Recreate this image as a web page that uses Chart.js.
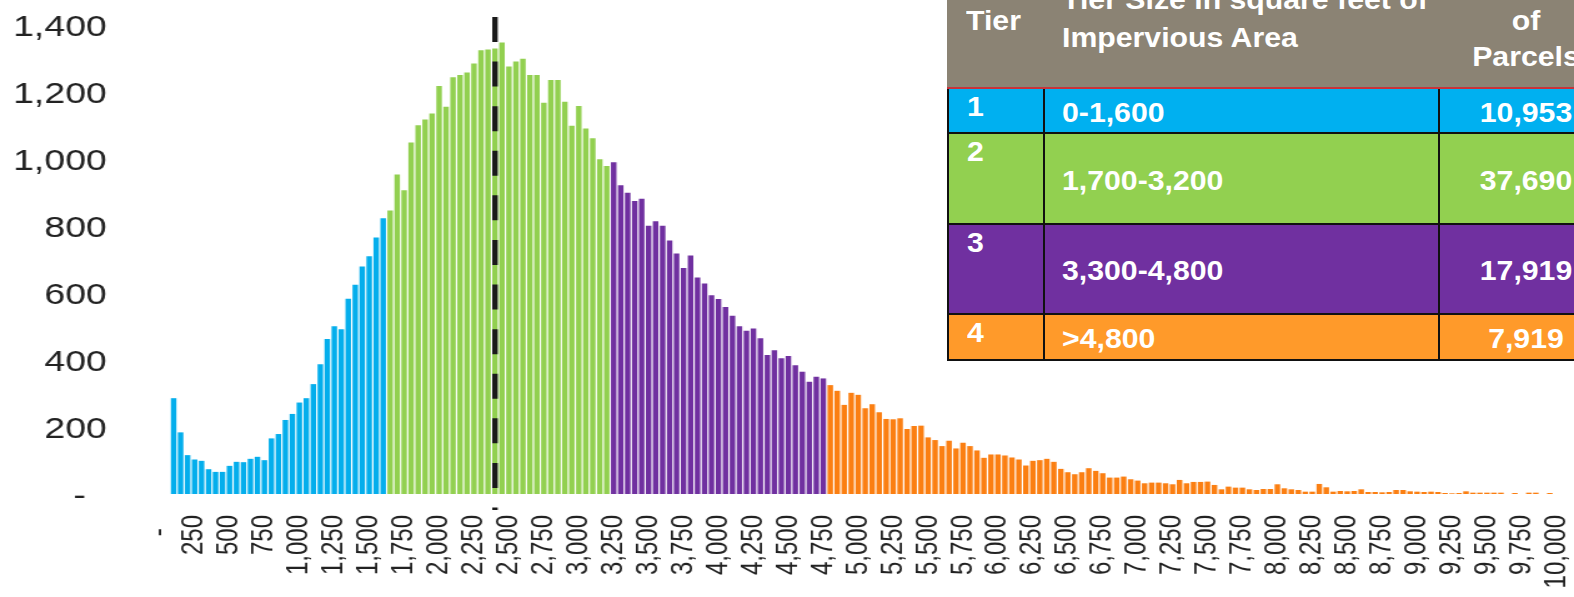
<!DOCTYPE html>
<html>
<head>
<meta charset="utf-8">
<script src="https://cdn.jsdelivr.net/npm/chart.js@4.4.1/dist/chart.umd.min.js"></script>
<style>
  html, body { margin: 0; padding: 0; background: #fff; }
  body { width: 1574px; height: 597px; overflow: hidden; position: relative; font-family: "Liberation Sans", Arial, sans-serif; }
  #stretch { position: absolute; left: 0; top: 0; width: 1260px; height: 597px; transform: scaleX(1.24921); transform-origin: 0 0; }
  #tierTable { position: absolute; left: 0; top: 0; width: 1574px; height: 597px; pointer-events: none; }
  .cell { position: absolute; }
  .txt { position: absolute; color: #fff; font: bold 28px "Liberation Sans", Arial, sans-serif; line-height: 28px; white-space: pre; transform: scaleX(1.08); }
</style>
</head>
<body>
<div id="stretch"><canvas id="histogram" width="1260" height="597"></canvas></div>
<div id="tierTable"></div>
<script>
// parcel counts per 50 sq ft bin of impervious area, bins 0 .. 10,000
var binSize = 50;
var tier1Counts = [0, 0, 286, 184, 116, 103, 99, 74, 66, 66, 84, 96, 95, 105, 111, 101, 166, 179, 221, 239, 273,
    286, 328, 387, 463, 501, 492, 583, 625, 679, 710, 766, 823];
var tier2Counts = [846, 954, 907, 1049, 1101, 1118, 1136, 1218, 1156, 1244, 1251, 1258, 1285, 1325, 1327, 1330,
    1348, 1276, 1291, 1299, 1251, 1251, 1168, 1236, 1236, 1171, 1099, 1158, 1091, 1062, 999, 979];
var tier3Counts = [990, 922, 899, 875, 881, 801, 814, 801, 757, 718, 675, 712, 646, 628, 593, 582, 558, 532, 501,
    487, 494, 465, 415, 429, 405, 412, 384, 365, 335, 350, 345];
var tier4Counts = [325, 308, 266, 302, 296, 256, 268, 244, 224, 223, 226, 194, 203, 204, 169, 161, 143, 159, 136,
    153, 143, 130, 108, 118, 118, 115, 109, 103, 85, 99, 101, 105, 96, 75, 65, 59, 65,
    77, 69, 62, 49, 49, 52, 44, 40, 32, 34, 34, 32, 29, 42, 32, 36, 36, 37, 27, 14, 22, 19, 19, 14, 12, 15, 15,
    29, 17, 14, 12, 7, 7, 30, 20, 7,
    9, 8, 9, 14, 6, 6, 5, 6, 12, 12, 8, 7, 6, 7, 6, 3, 2, 3, 8, 4, 4, 4, 4, 4, 0, 3, 0, 4, 4, 0, 3, 0];
var yTicks = [0, 200, 400, 600, 800, 1000, 1200, 1400];
var labelEvery = 250;
var markerBin = 2400;   // dashed line

// table
var tableHead = ['Tier', 'Tier Size in square feet of\nImpervious Area', 'Number\nof\nParcels'];
var tierNames = ['1', '2', '3', '4'];
var tierRanges = ['0-1,600', '1,700-3,200', '3,300-4,800', '>4,800'];
var tierParcels = ['10,953', '37,690', '17,919', '7,919'];

var barColors = ['#04aeec', '#92d050', '#7030a0', '#fb7f12'];
var rowColors = ['#00b0f0', '#92d050', '#7030a0', '#ff9a2a'];

Chart.defaults.font.family = '"Liberation Sans", Arial, sans-serif';

var tiers = [tier1Counts, tier2Counts, tier3Counts, tier4Counts];
var counts = [];
var colors = [];
tiers.forEach(function (t, ti) {
    t.forEach(function (v) {
        counts.push(v);
        colors.push(barColors[ti]);
    });
});
var bins = [];
for (var i = 0; i < counts.length; i++) {
    bins.push(i * binSize);
}

function fmt(v) {
    if (v === 0) return '-  ';
    return v.toLocaleString('en-US');
}

var markerPlugin = {
    id: 'marker',
    afterDatasetsDraw: function (chart) {
        var ctx = chart.ctx;
        var x = chart.scales.x.getPixelForValue(bins.indexOf(markerBin));
        var top = chart.scales.y.getPixelForValue(1424);
        var bottom = chart.chartArea.bottom + 16;
        ctx.save();
        ctx.strokeStyle = '#1a1a1a';
        ctx.lineWidth = 4.4;
        ctx.setLineDash([25, 19.6]);
        ctx.beginPath();
        ctx.moveTo(x, top);
        ctx.lineTo(x, bottom);
        ctx.stroke();
        ctx.restore();
    }
};

new Chart(document.getElementById('histogram'), {
    type: 'bar',
    data: {
        labels: bins,
        datasets: [{
            data: counts,
            backgroundColor: colors,
            barPercentage: 0.79,
            categoryPercentage: 1
        }]
    },
    options: {
        responsive: false,
        animation: false,
        layout: { padding: { top: 25, right: 11, left: 0, bottom: 0 } },
        plugins: { legend: { display: false }, tooltip: { enabled: false } },
        scales: {
            x: {
                grid: { display: false, drawTicks: false },
                border: { display: false },
                ticks: {
                    autoSkip: false,
                    minRotation: 90,
                    maxRotation: 90,
                    padding: 21,
                    color: '#222',
                    font: { size: 24 },
                    callback: function (v, i) {
                        var b = bins[i];
                        return b % labelEvery === 0 ? fmt(b) : '';
                    }
                },
                afterFit: function (s) {
                    s.height = 103;
                    s.paddingLeft = 0;
                    s.paddingRight = 0;
                }
            },
            y: {
                min: 0,
                max: 1400,
                grid: { display: false, drawTicks: false },
                border: { display: false },
                afterBuildTicks: function (s) {
                    s.ticks = yTicks.map(function (v) { return { value: v }; });
                },
                ticks: {
                    padding: 39.5,
                    labelOffset: 3,
                    color: '#222',
                    font: { size: 30 },
                    callback: function (v) { return fmt(v); }
                },
                afterFit: function (s) {
                    s.width = 125;
                    s.paddingTop = 0;
                    s.paddingBottom = 0;
                }
            }
        }
    },
    plugins: [markerPlugin]
});

// tier table (top right)
var tbl = document.getElementById('tierTable');
function box(l, t, w, h, bg) {
    var d = document.createElement('div');
    d.className = 'cell';
    d.style.left = l + 'px'; d.style.top = t + 'px';
    d.style.width = w + 'px'; d.style.height = h + 'px';
    d.style.background = bg;
    tbl.appendChild(d);
}
function text(s, x, baseline, center) {
    var d = document.createElement('div');
    d.className = 'txt';
    d.textContent = s;
    d.style.top = (baseline - 23.7) + 'px';
    if (center) {
        d.style.left = (x - 150) + 'px';
        d.style.width = '300px';
        d.style.textAlign = 'center';
        d.style.transformOrigin = 'center';
    } else {
        d.style.left = x + 'px';
        d.style.transformOrigin = 'left';
    }
    tbl.appendChild(d);
}
var rowTop = [89, 134, 225, 315];
var rowBot = [132, 223, 313, 359];
// header
box(947, -60, 640, 147, '#8b8374');
box(947, 87, 640, 2, '#c8323a');
text(tableHead[0], 966, 31, false);
var h2 = tableHead[1].split('\n');
text(h2[0], 1062, 10, false);
text(h2[1], 1062, 48, false);
var h3 = tableHead[2].split('\n');
text(h3[0], 1526, -5, true);
text(h3[1], 1526, 31, true);
text(h3[2], 1526, 67, true);
// rows
tierNames.forEach(function (n, i) {
    box(947, rowTop[i], 640, rowBot[i] - rowTop[i], rowColors[i]);
    box(947, rowBot[i], 640, 2, '#111');
    box(947, rowTop[i], 2, rowBot[i] - rowTop[i] + 2, '#111');
    box(1043, rowTop[i], 2, rowBot[i] - rowTop[i] + 2, '#111');
    box(1438, rowTop[i], 2, rowBot[i] - rowTop[i] + 2, '#111');
    text(n, 967, rowTop[i] + 28, false);
    var base = (rowTop[i] + rowBot[i]) / 2 + 12;
    text(tierRanges[i], 1062, base, false);
    text(tierParcels[i], 1526, base, true);
});
</script>
</body>
</html>
